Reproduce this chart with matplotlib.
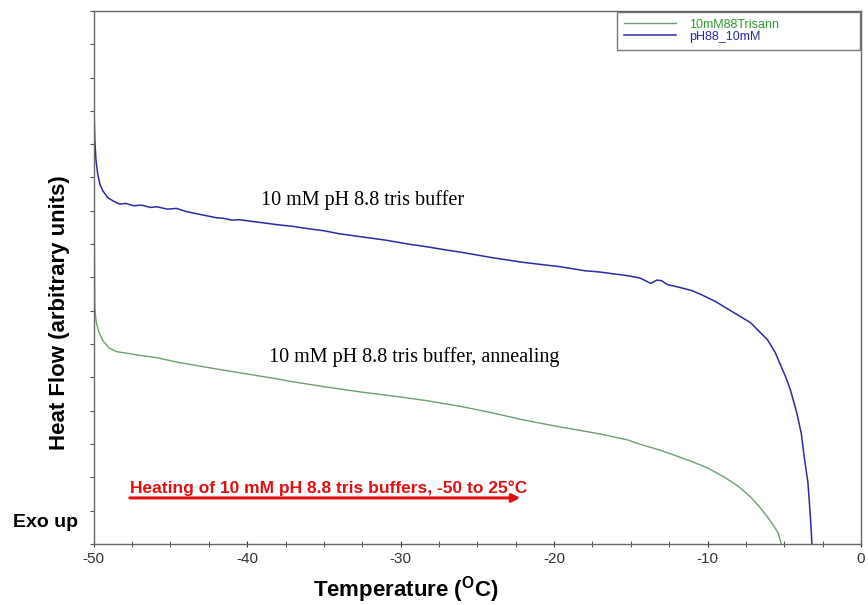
import numpy as np
import matplotlib
matplotlib.use("Agg")
import matplotlib.pyplot as plt

plt.rcParams['font.family'] = ['Liberation Sans', 'DejaVu Sans']

# DSC heating traces (y in arbitrary units, 0..16)
blue_t = [-50.0, -49.98, -49.93, -49.85, -49.74, -49.6, -49.41, -49.1, -48.76, -48.3,
          -47.9, -47.4, -46.9, -46.3, -45.9, -45.2, -44.6, -44.0, -43.4, -42.0,
          -41.5, -41.0, -40.5, -39.0, -38.0, -37.0, -36.0, -35.0, -34.0, -32.6,
          -31.0, -29.5, -28.3, -27.0, -26.0, -24.0, -22.0, -19.6, -18.0, -17.0,
          -15.2, -14.4, -13.7, -13.3, -13.0, -12.6, -12.0, -11.0, -10.4, -9.5,
          -8.5, -7.2, -6.1, -5.6, -5.2, -4.9, -4.6, -4.2, -3.9, -3.7,
          -3.46, -3.3, -3.2]
blue_v = [14.0, 13.0, 12.1, 11.5, 11.1, 10.8, 10.6, 10.4, 10.3, 10.2,
          10.22, 10.15, 10.17, 10.1, 10.12, 10.05, 10.07, 9.98, 9.92, 9.79,
          9.77, 9.72, 9.73, 9.64, 9.58, 9.53, 9.46, 9.40, 9.31, 9.22,
          9.12, 9.0, 8.92, 8.82, 8.75, 8.59, 8.45, 8.32, 8.2, 8.16,
          8.05, 7.98, 7.82, 7.92, 7.9, 7.78, 7.72, 7.6, 7.48, 7.28,
          7.0, 6.64, 6.13, 5.75, 5.32, 5.0, 4.62, 3.95, 3.33, 2.6,
          1.83, 0.8, 0.0]

green_t = [-50.0, -49.98, -49.96, -49.93, -49.85, -49.7, -49.41, -49.0, -48.5, -47.8,
           -47.0, -45.9, -44.5, -43.0, -41.6, -40.0, -38.0, -37.2, -35.0, -32.6,
           -30.5, -28.3, -26.0, -24.0, -22.0, -19.6, -17.0, -15.2, -14.4, -13.0,
           -11.3, -10.0, -8.9, -8.0, -7.2, -6.6, -6.1, -5.7, -5.4, -5.2]
green_v = [12.0, 10.5, 9.0, 7.1, 6.7, 6.4, 6.1, 5.88, 5.77, 5.72,
           5.66, 5.59, 5.45, 5.33, 5.22, 5.1, 4.95, 4.88, 4.72, 4.56,
           4.44, 4.3, 4.12, 3.93, 3.72, 3.51, 3.3, 3.12, 2.99, 2.8,
           2.52, 2.28, 2.0, 1.73, 1.41, 1.1, 0.81, 0.55, 0.33, 0.0]

xticks = [-50, -40, -30, -20, -10, 0]

fig = plt.figure(figsize=(8.68, 6.05), dpi=100)
ax = fig.add_axes([0.108, 0.101, 0.884, 0.881])

ax.plot(green_t, green_v, color='#6f9f6f', lw=1.0, label='10mM88Trisann')
ax.plot(blue_t, blue_v, color='#2a2aa6', lw=1.1, label='pH88_10mM')

ax.set_xlim(-50, 0)
ax.set_ylim(0, 16)
ax.set_xticks(xticks)
ax.set_xticklabels([str(t) for t in xticks])
ax.set_xticks(np.arange(-50, 0.1, 2.5), minor=True)
ax.set_yticks(np.arange(0, 16.1, 1))
ax.set_yticklabels([])
ax.tick_params(axis='x', direction='inout', length=5, labelsize=11, colors='#333333')
ax.tick_params(axis='x', which='minor', direction='inout', length=4, color='#333333')
ax.tick_params(axis='y', direction='out', length=3, color='#555555')
for s in ax.spines.values():
    s.set_color('#666666')
    s.set_linewidth(1.0)

fig.text(0.468, 0.025, 'Temperature ($^{\\mathregular{O}}$C)', fontsize=16,
         fontweight='bold', ha='center', va='center')
fig.text(0.069, 0.483, 'Heat Flow (arbitrary units)', fontsize=16, fontweight='bold',
         rotation=90, ha='center', va='center')

ax.text(-32.5, 10.33, '10 mM pH 8.8 tris buffer', family='Liberation Serif',
        fontsize=14.5, ha='center', va='center')
ax.text(-29.15, 5.6, '10 mM pH 8.8 tris buffer, annealing', family='Liberation Serif',
        fontsize=14.5, ha='center', va='center')

ax.text(-47.65, 1.68, 'Heating of 10 mM pH 8.8 tris buffers, -50 to 25\u00b0C',
        color='#e01010', fontsize=12.5, fontweight='bold', ha='left', va='center')
ax.annotate('', xy=(-22.2, 1.38), xytext=(-47.65, 1.38),
            arrowprops=dict(arrowstyle='-|>', color='#e01010', lw=2.2,
                            mutation_scale=12, shrinkA=0, shrinkB=0))

fig.text(0.015, 0.136, 'Exo up', fontsize=14, fontweight='bold', ha='left', va='center')

leg = ax.legend(loc='upper left', bbox_to_anchor=(0.682, 0.921, 0.317, 0.077),
                mode='expand', fontsize=9, frameon=True, fancybox=False,
                borderpad=0.55, handlelength=4.2, handletextpad=1.0,
                labelspacing=0.0, borderaxespad=0)
leg.get_frame().set_edgecolor('#555555')
leg.get_frame().set_linewidth(1.0)
for txt, c in zip(leg.get_texts(), ['#2e9a2e', '#2a2aa6']):
    txt.set_color(c)

fig.savefig('out.png', dpi=100)
